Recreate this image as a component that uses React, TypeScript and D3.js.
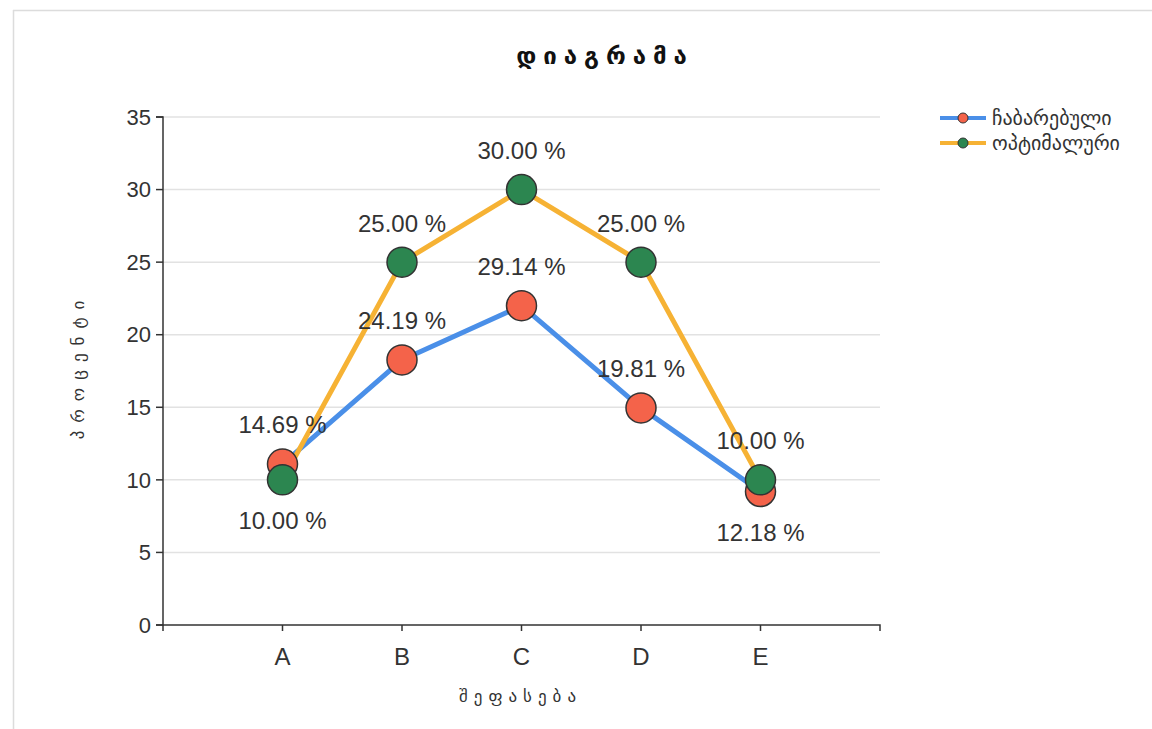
import React from "react";
import * as d3 from "d3";

// Categories on the x axis
const categories = ["A", "B", "C", "D", "E"];
// Series values
const submittedValues = [11.091, 18.263, 22.001, 14.957, 9.196];
const optimalValues = [10, 25, 30, 25, 10];
// Series names
const seriesNames = ["ჩაბარებული", "ოპტიმალური"];
// Y axis ticks
const yTicks = [0, 5, 10, 15, 20, 25, 30, 35];

const W = 1152;
const H = 729;
const margin = { left: 163, right: 272, top: 117, bottom: 104 };

const series = [
  { name: seriesNames[0], values: submittedValues, line: "#4a8fe8", fill: "#f4634a" },
  { name: seriesNames[1], values: optimalValues, line: "#f6b234", fill: "#2c8650" },
];

const geo = "'DejaVu Sans', 'Noto Sans', sans-serif";
const latin = "'Liberation Sans', Arial, sans-serif";

export default function App() {
  const x = d3
    .scalePoint<string>()
    .domain(categories)
    .range([margin.left, W - margin.right])
    .padding(1);
  const y = d3.scaleLinear().domain([0, 35]).range([H - margin.bottom, margin.top]);

  const line = d3
    .line<number>()
    .x((_, i) => x(categories[i]) as number)
    .y((d) => y(d));

  // Share of each value within its series, shown as a percentage label
  const shares = series.map((s) => {
    const total = d3.sum(s.values);
    return s.values.map((v) => (v / total) * 100);
  });

  const x0 = margin.left;
  const x1 = W - margin.right;
  const y0 = H - margin.bottom;

  return (
    <svg
      width={W}
      height={H}
      style={{ position: "fixed", left: 0, top: 0, background: "#fff" }}
    >
      {/* frame */}
      <line x1={13.5} y1={10} x2={13.5} y2={H} stroke="#dcdcdc" strokeWidth={1.5} />
      <line x1={13} y1={10.5} x2={W} y2={10.5} stroke="#dcdcdc" strokeWidth={1.5} />

      {/* title */}
      <text
        x={605}
        y={64}
        textAnchor="middle"
        fontFamily={geo}
        fontWeight="bold"
        fontSize={24}
        letterSpacing={7}
        fill="#111"
      >
        დიაგრამა
      </text>

      {/* grid */}
      {yTicks.slice(1).map((t) => (
        <line key={t} x1={x0} x2={x1} y1={y(t)} y2={y(t)} stroke="#e2e2e2" strokeWidth={1.5} />
      ))}

      {/* y axis */}
      <path d={`M${x0 - 7},${y(35)}H${x0}V${y0}H${x0 - 7}`} fill="none" stroke="#333" strokeWidth={1.5} />
      {yTicks.map((t) => (
        <g key={t}>
          <line x1={x0 - 7} x2={x0} y1={y(t)} y2={y(t)} stroke="#333" strokeWidth={1.5} />
          <text
            x={x0 - 12}
            y={y(t)}
            dy="0.35em"
            textAnchor="end"
            fontFamily={latin}
            fontSize={22}
            fill="#333"
          >
            {t}
          </text>
        </g>
      ))}

      {/* x axis */}
      <path d={`M${x0},${y0 + 6}V${y0}H${x1}V${y0 + 6}`} fill="none" stroke="#333" strokeWidth={1.5} />
      {categories.map((c) => (
        <g key={c}>
          <line x1={x(c)} x2={x(c)} y1={y0} y2={y0 + 6} stroke="#333" strokeWidth={1.5} />
          <text
            x={x(c)}
            y={y0 + 40}
            textAnchor="middle"
            fontFamily={latin}
            fontSize={24}
            fill="#333"
          >
            {c}
          </text>
        </g>
      ))}

      {/* axis titles */}
      <text
        x={(x0 + x1) / 2 - 1}
        y={702}
        textAnchor="middle"
        fontFamily={geo}
        fontSize={17}
        letterSpacing={6}
        fill="#333"
      >
        შეფასება
      </text>
      <text
        transform={`translate(84,${(y(35) + y0) / 2 - 5}) rotate(-90)`}
        textAnchor="middle"
        fontFamily={geo}
        fontSize={17}
        letterSpacing={8}
        fill="#333"
      >
        პროცენტი
      </text>

      {/* lines */}
      {series.map((s) => (
        <path
          key={s.name}
          d={line(s.values) as string}
          fill="none"
          stroke={s.line}
          strokeWidth={5}
          strokeLinejoin="round"
        />
      ))}

      {/* markers */}
      {series.map((s) =>
        s.values.map((v, i) => (
          <circle
            key={s.name + i}
            cx={x(categories[i])}
            cy={y(v)}
            r={15}
            fill={s.fill}
            stroke="#333"
            strokeWidth={1.5}
          />
        ))
      )}

      {/* value labels */}
      {series.map((s, si) =>
        s.values.map((v, i) => {
          const other = series[1 - si].values[i];
          const below = v < other && other - v < 3;
          return (
            <text
              key={s.name + "l" + i}
              x={x(categories[i])}
              y={y(v) + (below ? 41 : -39)}
              dy="0.35em"
              textAnchor="middle"
              fontFamily={latin}
              fontSize={24}
              fill="#333"
            >
              {shares[si][i].toFixed(2)} %
            </text>
          );
        })
      )}

      {/* legend */}
      {series.map((s, i) => (
        <g key={s.name} transform={`translate(940,${118 + i * 25})`}>
          <line x1={0} x2={46} y1={0} y2={0} stroke={s.line} strokeWidth={4} />
          <circle cx={23} cy={0} r={5} fill={s.fill} stroke="#333" strokeWidth={1} />
          <text x={52} y={0} dy="0.35em" fontFamily={geo} fontSize={20} fill="#333">
            {s.name}
          </text>
        </g>
      ))}
    </svg>
  );
}
